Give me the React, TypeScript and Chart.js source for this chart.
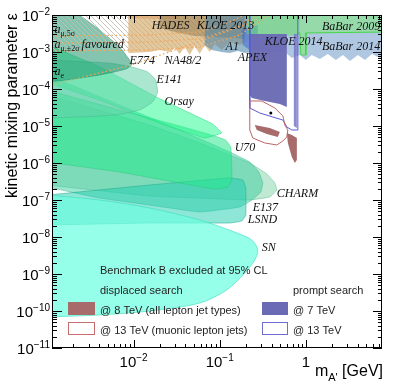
import React, { useEffect, useRef } from 'react';
import { Chart, registerables } from 'chart.js';

Chart.register(...registerables);

type P = [number, number];

// axis ranges (mass in GeV, kinetic mixing epsilon)
const X_MIN = 1.13e-3;
const X_MAX = 7.65;
const Y_MIN = 1e-11;
const Y_MAX = 1e-2;

// tick labels
const xTickValues = [1e-2, 1e-1, 1];
const xTickBases = ['10', '10', '1'];
const xTickExps = ['\u22122', '\u22121', ''];
const yTickValues = [1e-2, 1e-3, 1e-4, 1e-5, 1e-6, 1e-7, 1e-8, 1e-9, 1e-10, 1e-11];
const yTickExps = ['\u22122', '\u22123', '\u22124', '\u22125', '\u22126', '\u22127', '\u22128', '\u22129', '\u221210', '\u221211'];

// beam dump / astrophysics exclusion regions
const charmRegion: P[] = [[1e-3, 6.89e-5], [1.53e-2, 1.06e-5], [5.85e-2, 3.48e-6], [0.1306, 1.64e-6], [0.2233, 1.0e-6], [0.352, 5.05e-7], [0.436, 2.88e-7], [0.46, 1.86e-7], [0.381, 1.21e-7], [0.2233, 1.0e-7], [0.1, 1.07e-7], [1.53e-2, 1.28e-7], [1e-3, 2.54e-7]];
const e137Region: P[] = [[1e-3, 2.39e-4], [6.87e-3, 3.7e-5], [3.43e-2, 7.8e-6], [0.1306, 1.98e-6], [0.2233, 1.06e-6], [0.284, 5.71e-7], [0.316, 2.88e-7], [0.30, 1.64e-7], [0.2356, 1.0e-7], [0.171, 6.47e-8], [5.85e-2, 4.74e-8], [1.53e-2, 7.32e-8], [4.02e-3, 1.13e-7], [1e-3, 2.25e-7]];
const lsndRegion: P[] = [[1e-3, 1.36e-7], [1.53e-2, 2.54e-7], [0.1306, 3.94e-7], [0.185, 3.48e-7], [0.2006, 2.11e-7], [0.2006, 3.94e-8], [0.18, 2.71e-8], [0.1306, 2.39e-8], [1.53e-2, 2.39e-8], [4.02e-3, 2.25e-8], [1e-3, 2.11e-8]];
const snRegion: P[] = [[1e-3, 1.36e-7], [4.02e-3, 1.0e-7], [1.53e-2, 6.08e-8], [5.85e-2, 2.88e-8], [0.149, 1.36e-8], [0.2356, 8.3e-9], [0.2767, 4.46e-9], [0.2553, 2.39e-9], [0.1954, 1.06e-9], [0.1205, 3.7e-10], [5.85e-2, 1.64e-10], [1.53e-2, 1.0e-10], [4.02e-3, 7.8e-11], [1e-3, 6.89e-11]];
const u70Region: P[] = [[1e-3, 9.4e-5], [6.87e-3, 2.71e-5], [3.43e-2, 1e-5], [8.75e-2, 5.37e-6], [0.117, 4.19e-6], [0.134, 2.71e-6], [0.138, 8.83e-7], [0.138, 3.48e-7], [0.124, 2.25e-7], [8.75e-2, 1.98e-7], [3.43e-2, 2.88e-7], [6.87e-3, 5.71e-7], [1e-3, 1.06e-6]];
const orsayRegion: P[] = [[1e-3, 1.55e-3], [4.02e-3, 4.0e-4], [2.0e-2, 5.5e-5], [8.29e-2, 1.13e-5], [0.1055, 6.47e-6], [6.7e-2, 4.74e-6], [2.0e-2, 1.2e-5], [4.02e-3, 5.0e-5], [1e-3, 1.5e-4]];
const e141Region: P[] = [[1e-3, 6.08e-4], [5.26e-3, 5.0e-4], [9.48e-3, 3.94e-4], [1.45e-2, 2.9e-4], [1.8e-2, 1.75e-4], [1.9e-2, 8.3e-5], [1.66e-2, 4.46e-5], [1.17e-2, 2.71e-5], [6.0e-3, 1.98e-5], [2.36e-3, 1.75e-5], [1e-3, 1.64e-5]];
const e774Region: P[] = [[1e-3, 1.2e-2], [2.2e-3, 1.2e-2], [2.36e-3, 1e-2], [4.02e-3, 3.94e-3], [6.87e-3, 1.36e-3], [8.98e-3, 6.08e-4], [9.48e-3, 4.46e-4], [8.2e-3, 3.5e-4], [6.0e-3, 2.9e-4], [4.02e-3, 2.39e-4], [1.66e-3, 1.75e-4], [1e-3, 1.55e-4]];

// g-2 favoured band and lines
const hatchBand: P[] = [[1e-3, 1.2e-2], [0.42, 1.2e-2], [0.381, 1e-2], [0.3335, 8.3e-3], [0.171, 2.88e-3], [5.85e-2, 1.36e-3], [1.53e-2, 1.13e-3], [1e-3, 1.06e-3]];
const amu5Line: P[] = [[1e-3, 2.71e-3], [1.53e-2, 2.88e-3], [5.85e-2, 3.48e-3], [0.1306, 6.47e-3], [0.1954, 1e-2], [0.22, 1.2e-2]];
const amuUpLine: P[] = [[1e-3, 1.75e-3], [1.53e-2, 1.86e-3], [5.85e-2, 2.25e-3], [0.149, 4.46e-3], [0.2767, 1e-2], [0.31, 1.2e-2]];
const amuLowLine: P[] = [[1e-3, 1.06e-3], [1.53e-2, 1.13e-3], [5.85e-2, 1.36e-3], [0.171, 2.88e-3], [0.3335, 8.3e-3], [0.381, 1e-2], [0.42, 1.2e-2]];
const aeLine: P[] = [[1e-3, 1.2e-4], [9.48e-3, 4.46e-4], [4.48e-2, 1.55e-3], [0.2233, 6.08e-3], [0.3335, 1e-2], [0.38, 1.2e-2]];

// collider / fixed-target regions at the top
const hadesRegion: P[] = [[8.7e-3, 1.2e-2], [3.43e-2, 1.2e-2], [3.43e-2, 7.8e-3], [1.53e-2, 7.8e-3], [8.7e-3, 8.3e-3]];
const na48Region: P[] = [[8.7e-3, 1.2e-2], [0.2233, 1.2e-2], [0.2233, 2.11e-3], [0.171, 1.55e-3], [0.1306, 1.86e-3], [0.1055, 1.13e-3], [8.75e-2, 1.64e-3], [7.65e-2, 1e-3], [6.69e-2, 1.55e-3], [5.85e-2, 8.83e-4], [5.12e-2, 1.45e-3], [4.48e-2, 8.3e-4], [3.92e-2, 1.36e-3], [3.43e-2, 8.83e-4], [3.0e-2, 1.28e-3], [2.62e-2, 1e-3], [2.0e-2, 1.13e-3], [1.53e-2, 1e-3], [8.98e-3, 9.4e-4], [8.7e-3, 9.4e-4]];
const kloe13Region: P[] = [[2.0e-2, 1.2e-2], [0.2233, 1.2e-2], [0.2233, 2.11e-3], [0.149, 2.39e-3], [8.75e-2, 2.54e-3], [5.12e-2, 2.71e-3], [3.0e-2, 3.48e-3], [2.0e-2, 4.46e-3]];
const a1Region: P[] = [[7.0e-2, 1.2e-2], [0.2233, 1.2e-2], [0.2356, 1e-3], [0.1954, 9.4e-4], [0.162, 1.06e-3], [0.1306, 9.4e-4], [0.1055, 1e-3], [8.07e-2, 1.13e-3], [6.69e-2, 1.55e-3], [6.69e-2, 2.88e-3]];
const babar14Region: P[] = [[0.1954, 1.2e-2], [9.5, 1.2e-2], [9.5, 8.3e-4], [7.25, 6.89e-4], [5.85, 8.83e-4], [4.85, 6.08e-4], [4.02, 8.3e-4], [3.25, 5.71e-4], [2.69, 8.3e-4], [2.23, 6.08e-4], [1.80, 8.83e-4], [1.455, 6.47e-4], [1.17, 8.3e-4], [1.0, 6.08e-4], [0.851, 8.3e-4], [0.687, 6.89e-4], [0.570, 1e-3], [0.381, 1e-3], [0.2553, 1.13e-3], [0.1954, 1.55e-3]];
const apexRegion: P[] = [[0.180, 3.94e-3], [0.2767, 5.37e-3], [0.2767, 1.28e-3], [0.2233, 1.13e-3], [0.185, 1.55e-3]];
const kloe14Region: P[] = [[0.206, 1.2e-2], [0.851, 1.2e-2], [0.851, 2.88e-3], [0.499, 2.71e-3], [0.2917, 2.71e-3], [0.206, 3.07e-3]];
const babar09Region: P[] = [[0.807, 1.2e-2], [9.5, 1.2e-2], [9.5, 3.48e-3], [1.0, 3.27e-3], [1.0, 8.3e-4], [0.875, 8.3e-4], [0.851, 3.27e-3], [0.807, 3.27e-3]];

// CMS lepton-jet results
const prompt7Region: P[] = [[0.2233, 3.07e-3], [0.601, 3.07e-3], [0.601, 3.27e-5], [0.499, 3.94e-5], [0.3335, 4.74e-5], [0.2356, 5.71e-5], [0.2233, 6.89e-5]];
const prompt7Strip: P[] = [[0.725, 3.07e-3], [0.786, 3.07e-3], [0.786, 8.83e-6], [0.725, 1e-5]];
const prompt13Outline: P[] = [[0.2233, 1.2e-2], [0.2233, 3.07e-5], [0.2917, 2.25e-5], [0.413, 1.75e-5], [0.541, 1.45e-5], [0.601, 9.4e-6], [0.687, 7.8e-6], [0.807, 7.8e-6], [0.807, 1.2e-2]];
const displaced8A: P[] = [[0.2553, 1.06e-5], [0.381, 8.83e-6], [0.499, 6.89e-6], [0.472, 5.05e-6], [0.352, 6.08e-6], [0.2692, 7.8e-6]];
const displaced8B: P[] = [[0.601, 6.47e-6], [0.687, 5.71e-6], [0.786, 4.74e-6], [0.786, 1.21e-6], [0.745, 1e-6], [0.687, 1.45e-6], [0.618, 3.48e-6]];
const displaced13Outline: P[] = [[0.2233, 4.74e-5], [0.3078, 4.74e-5], [0.436, 3.07e-5], [0.541, 1.86e-5], [0.570, 1.06e-5], [0.618, 7.8e-6], [0.601, 5.05e-6], [0.541, 3.94e-6], [0.46, 3.07e-6], [0.3335, 3.48e-6], [0.242, 4.74e-6], [0.2233, 7.8e-6], [0.2233, 4.74e-5]];
const benchmarkPoint: P[] = [[0.392, 2.25e-5]];

// region labels (mass, epsilon at label baseline start)
const labelTexts = ['HADES', 'KLOE 2013', 'E774', 'NA48/2', 'A1', 'APEX', 'KLOE 2014', 'BaBar 2014', 'BaBar 2009', 'E141', 'Orsay', 'U70', 'CHARM', 'E137', 'LSND', 'SN'];
const labelMasses = [1.62e-2, 5.4e-2, 8.98e-3, 2.29e-2, 0.117, 0.162, 0.3335, 1.535, 1.535, 1.85e-2, 2.29e-2, 0.149, 0.46, 0.242, 0.212, 0.3078];
const labelEps = [4.19e-3, 4.19e-3, 4.74e-4, 4.74e-4, 1.13e-3, 5.71e-4, 1.55e-3, 1.13e-3, 3.94e-3, 1.45e-4, 3.7e-5, 2.11e-6, 1.21e-7, 5.05e-8, 2.39e-8, 4.19e-9];

const gm2Subs = ['\u03bc,5\u03c3', '\u03bc,\u00b12\u03c3', 'e'];
const gm2Tails = ['', 'favoured', ''];
const gm2Masses = [1.21e-3, 1.21e-3, 1.21e-3];
const gm2Eps = [3.27e-3, 1.28e-3, 2.39e-4];

const toXY = (pts: P[]) => pts.map(([x, y]) => ({ x, y }));

function region(label: string, pts: P[], bg: any, border = 'rgba(0,0,0,0)', bw = 1, tension = 0) {
  return {
    label, data: toXY(pts), showLine: true, fill: 'shape', backgroundColor: bg,
    borderColor: border, borderWidth: bw, pointRadius: 0, pointHoverRadius: 0, tension, clip: 0,
  };
}
function line(label: string, pts: P[], color: string, bw = 1, dash: number[] = []) {
  return {
    label, data: toXY(pts), showLine: true, fill: false, backgroundColor: 'rgba(0,0,0,0)',
    borderColor: color, borderWidth: bw, borderDash: dash, pointRadius: 0, pointHoverRadius: 0, tension: 0, clip: 0,
  };
}

function makeHatch(): any {
  const c = document.createElement('canvas');
  c.width = 5; c.height = 5;
  const g = c.getContext('2d');
  if (!g) return 'rgba(0,0,0,0)';
  g.strokeStyle = 'rgba(195,190,185,0.9)';
  g.lineWidth = 1;
  g.beginPath();
  g.moveTo(0, 0); g.lineTo(5, 5);
  g.moveTo(-1, 4); g.lineTo(1, 6);
  g.moveTo(4, -1); g.lineTo(6, 1);
  g.stroke();
  return g.createPattern(c, 'repeat') || 'rgba(0,0,0,0)';
}

const SANS = '"Liberation Sans", Arial, sans-serif';
const SERIF = '"Liberation Serif", "Times New Roman", serif';

const decor = {
  id: 'rootDecor',
  afterDatasetsDraw(chart: any) {
    const { ctx, chartArea: a, scales } = chart;
    const xs = scales.x, ys = scales.y;
    ctx.save();
    ctx.textBaseline = 'alphabetic';
    ctx.textAlign = 'left';
    ctx.fillStyle = '#111';
    // region labels
    ctx.font = `italic 12px ${SERIF}`;
    labelTexts.forEach((t, i) => {
      ctx.fillText(t, xs.getPixelForValue(labelMasses[i]), ys.getPixelForValue(labelEps[i]));
    });
    gm2Subs.forEach((s, i) => {
      let x = xs.getPixelForValue(gm2Masses[i]);
      const y = ys.getPixelForValue(gm2Eps[i]);
      ctx.font = `italic 12px ${SERIF}`;
      ctx.fillText('a', x, y);
      x += ctx.measureText('a').width;
      ctx.font = `8px ${SERIF}`;
      ctx.fillText(s, x, y + 3);
      x += ctx.measureText(s).width;
      if (gm2Tails[i]) {
        ctx.font = `italic 12px ${SERIF}`;
        ctx.fillText(gm2Tails[i], x + 2, y);
      }
    });

    // legend
    ctx.fillStyle = '#222';
    ctx.font = `11px ${SANS}`;
    ctx.fillText('Benchmark B excluded at 95% CL', 100, 274);
    ctx.fillText('displaced search', 100, 294);
    ctx.fillText('@ 8 TeV (all lepton jet types)', 100, 314);
    ctx.fillText('@ 13 TeV (muonic lepton jets)', 100, 334);
    ctx.fillText('prompt search', 293, 294);
    ctx.fillText('@ 7 TeV', 293, 314);
    ctx.fillText('@ 13 TeV', 293, 334);
    ctx.fillStyle = 'rgb(168,107,107)';
    ctx.fillRect(68, 302, 27, 13);
    ctx.fillStyle = 'rgb(107,107,181)';
    ctx.fillRect(262, 302, 26, 13);
    ctx.fillStyle = '#fff';
    ctx.fillRect(68, 322, 27, 13);
    ctx.fillRect(262, 322, 26, 13);
    ctx.lineWidth = 1;
    ctx.strokeStyle = 'rgb(200,110,110)';
    ctx.strokeRect(68.5, 322.5, 26, 12);
    ctx.strokeStyle = 'rgb(110,110,210)';
    ctx.strokeRect(262.5, 322.5, 25, 12);

    // frame
    ctx.strokeStyle = '#000';
    ctx.lineWidth = 1;
    ctx.strokeRect(a.left + 0.5, a.top + 0.5, a.right - a.left - 1, a.bottom - a.top - 1);
    ctx.beginPath();
    for (let e = -11; e <= -2; e++) {
      for (let j = 1; j <= 9; j++) {
        const v = j * Math.pow(10, e);
        if (v < Y_MIN * 0.999 || v > Y_MAX * 1.001) continue;
        const py = Math.round(ys.getPixelForValue(v)) + 0.5;
        const len = j === 1 ? 10 : 5;
        ctx.moveTo(a.left, py); ctx.lineTo(a.left + len, py);
        ctx.moveTo(a.right, py); ctx.lineTo(a.right - len + 1, py);
      }
    }
    for (let e = -3; e <= 0; e++) {
      for (let j = 1; j <= 9; j++) {
        const v = j * Math.pow(10, e);
        if (v < X_MIN || v > X_MAX) continue;
        const px = Math.round(xs.getPixelForValue(v)) + 0.5;
        const len = j === 1 ? 8 : 4;
        ctx.moveTo(px, a.bottom); ctx.lineTo(px, a.bottom - len);
        ctx.moveTo(px, a.top); ctx.lineTo(px, a.top + len);
      }
    }
    ctx.stroke();

    // tick labels
    ctx.fillStyle = '#000';
    yTickValues.forEach((v, i) => {
      const py = ys.getPixelForValue(v);
      ctx.font = `15px ${SANS}`;
      const wb = ctx.measureText('10').width;
      ctx.font = `10px ${SANS}`;
      const we = ctx.measureText(yTickExps[i]).width;
      const x0 = 50 - wb - we;
      ctx.font = `15px ${SANS}`;
      ctx.fillText('10', x0, py + 5.5);
      ctx.font = `10px ${SANS}`;
      ctx.fillText(yTickExps[i], x0 + wb, py - 0.5);
    });
    xTickValues.forEach((v, i) => {
      const px = xs.getPixelForValue(v);
      ctx.font = `15px ${SANS}`;
      const wb = ctx.measureText(xTickBases[i]).width;
      ctx.font = `10px ${SANS}`;
      const we = xTickExps[i] ? ctx.measureText(xTickExps[i]).width : 0;
      const x0 = px - (wb + we) / 2;
      ctx.font = `15px ${SANS}`;
      ctx.fillText(xTickBases[i], x0, 367);
      if (xTickExps[i]) {
        ctx.font = `10px ${SANS}`;
        ctx.fillText(xTickExps[i], x0 + wb, 361);
      }
    });

    // axis titles
    ctx.font = `16px ${SANS}`;
    const wm = ctx.measureText('m').width;
    const wg = ctx.measureText(' [GeV]').width;
    ctx.font = `11px ${SANS}`;
    const wa = ctx.measureText("A'").width;
    let tx = 383 - wm - wa - wg;
    ctx.font = `16px ${SANS}`;
    ctx.fillText('m', tx, 376);
    tx += wm;
    ctx.font = `11px ${SANS}`;
    ctx.fillText("A'", tx, 381);
    tx += wa;
    ctx.font = `16px ${SANS}`;
    ctx.fillText(' [GeV]', tx, 376);

    ctx.translate(17, 13);
    ctx.rotate(-Math.PI / 2);
    ctx.textAlign = 'right';
    ctx.font = `16px ${SANS}`;
    ctx.fillText('kinetic mixing parameter \u03b5', 0, 0);
    ctx.restore();
  },
};

export default function App() {
  const ref = useRef<HTMLCanvasElement>(null);
  useEffect(() => {
    const canvas = ref.current;
    if (!canvas) return;
    const hatch = makeHatch();
    const datasets: any[] = [
      region('CHARM', charmRegion, 'rgba(140,215,175,0.55)', 'rgba(90,190,150,0.5)', 1, 0.1),
      region('E137', e137Region, 'rgba(60,205,160,0.5)', 'rgba(50,180,140,0.45)', 1, 0.1),
      region('LSND', lsndRegion, 'rgba(30,205,175,0.5)', 'rgba(30,170,140,0.5)', 1, 0.1),
      region('SN', snRegion, 'rgba(110,255,225,0.72)', 'rgba(60,220,190,0.6)', 1, 0.3),
      region('U70', u70Region, 'rgba(40,232,140,0.55)', 'rgba(40,200,120,0.45)', 1, 0.1),
      region('Orsay', orsayRegion, 'rgba(30,250,140,0.5)', 'rgba(30,220,130,0.5)', 1, 0.08),
      region('E141', e141Region, 'rgba(100,210,170,0.55)', 'rgba(70,180,140,0.45)', 1, 0.15),
      region('E774', e774Region, 'rgba(30,150,110,0.55)', 'rgba(30,140,100,0.5)', 1, 0.15),
      region('g-2 band', hatchBand, hatch, 'rgba(0,0,0,0)', 0, 0),
      region('HADES', hadesRegion, 'rgba(240,140,100,0.6)'),
      region('NA48/2', na48Region, 'rgba(215,175,115,0.7)'),
      region('KLOE 2013', kloe13Region, 'rgba(130,110,70,0.45)'),
      region('A1', a1Region, 'rgba(80,135,170,0.6)'),
      region('BaBar 2014', babar14Region, 'rgba(150,180,215,0.75)'),
      region('APEX', apexRegion, 'rgba(60,100,210,0.5)'),
      region('KLOE 2014', kloe14Region, 'rgba(100,220,100,0.55)'),
      region('BaBar 2009', babar09Region, 'rgba(130,230,130,0.6)', 'rgb(70,215,70)', 1),
      region('prompt 7 TeV', prompt7Region, 'rgba(107,107,181,0.97)'),
      region('prompt 7 TeV strip', prompt7Strip, 'rgba(120,120,200,0.85)'),
      region('displaced 8 TeV a', displaced8A, 'rgb(168,107,107)'),
      region('displaced 8 TeV b', displaced8B, 'rgb(168,107,107)'),
      line('prompt 13 TeV', prompt13Outline, 'rgb(90,90,215)', 1),
      line('displaced 13 TeV', displaced13Outline, 'rgb(190,100,100)', 1),
      line('a_mu 5 sigma', amu5Line, 'rgb(240,165,90)', 1.3, [1.5, 2.5]),
      line('a_mu +2 sigma', amuUpLine, 'rgb(240,165,90)', 1.3, [1.5, 2.5]),
      line('a_mu -2 sigma', amuLowLine, 'rgb(240,165,90)', 1.3, [1.5, 2.5]),
      line('a_e', aeLine, 'rgb(240,165,90)', 1.3, [1.5, 2.5]),
      {
        label: 'benchmark', data: toXY(benchmarkPoint), showLine: false, pointRadius: 1.5,
        pointBackgroundColor: '#000', pointBorderColor: '#000', pointBorderWidth: 0, clip: 0,
      },
    ];
    const n = datasets.length;
    datasets.forEach((d, i) => { d.order = n - i; });

    const chart = new Chart(canvas, {
      type: 'scatter',
      data: { datasets },
      options: {
        responsive: false,
        maintainAspectRatio: false,
        devicePixelRatio: 1,
        animation: false,
        events: [],
        layout: { padding: { left: 52, top: 15, right: 17, bottom: 39 } },
        plugins: { legend: { display: false }, tooltip: { enabled: false } },
        scales: {
          x: { type: 'logarithmic', min: X_MIN, max: X_MAX, display: false, bounds: 'data' },
          y: { type: 'logarithmic', min: Y_MIN, max: Y_MAX, display: false, bounds: 'data' },
        },
      } as any,
      plugins: [decor],
    });
    return () => chart.destroy();
  }, []);
  return (
    <div style={{ position: 'absolute', left: 0, top: 0, width: 399, height: 387, background: '#fff' }}>
      <canvas ref={ref} width={399} height={387} style={{ display: 'block', width: 399, height: 387 }} />
    </div>
  );
}
